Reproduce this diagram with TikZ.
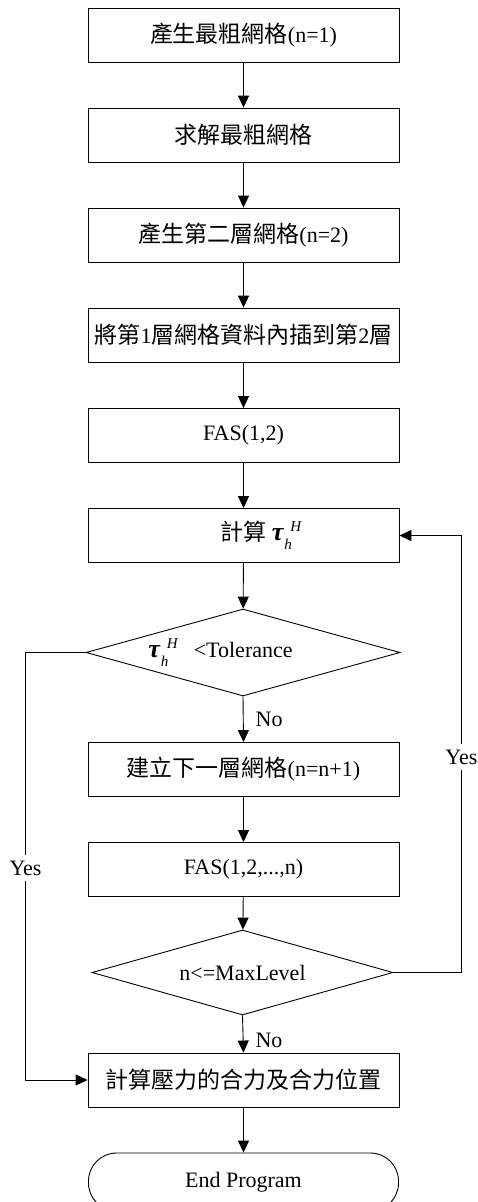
\documentclass[tikz,border=0pt]{standalone}
\usepackage{fontspec}
\setmainfont{Liberation Serif}
\newfontfamily\cjk[Scale=1.045]{Noto Sans CJK TC}
\usetikzlibrary{arrows.meta,shapes.geometric}

% Chinese text inside Latin lines
\newcommand\zh[1]{{\cjk #1}}
% bold tau with sub h and sup H
\newcommand\tauHh{{\fontsize{26pt}{26pt}\selectfont\bfseries\itshape τ}\kern1pt\rlap{\raisebox{-9pt}{\fontsize{15pt}{15pt}\selectfont\itshape h}}\kern6pt\raisebox{9pt}{\fontsize{15pt}{15pt}\selectfont\itshape H}}

\tikzset{
  proc/.style={draw, line width=0.9pt, minimum width=311pt, minimum height=54pt, inner sep=0pt},
  decision/.style={diamond, draw, line width=0.9pt, aspect=3.6, inner sep=0pt},
  terminal/.style={draw, line width=0.9pt, rounded corners=28pt, minimum width=310pt, minimum height=58pt, inner sep=0pt},
  flow/.style={-{Triangle[length=12pt,width=11pt]}, line width=0.9pt},
  branch/.style={font=\fontsize{22pt}{24pt}\selectfont, inner sep=0pt},
  loopnote/.style={font=\fontsize{22pt}{24pt}\selectfont, fill=white, inner xsep=1pt, inner ysep=6pt}
}

\begin{document}
\begin{tikzpicture}[x=1pt, y=-1pt, font=\fontsize{22pt}{26pt}\selectfont]
\useasboundingbox (0,0) rectangle (478,1202);
\clip (0,0) rectangle (478,1202);

\node[proc] (b1) at (243.5,35)    {\zh{產生最粗網格}(n=1)};
\node[proc] (b2) at (243.5,135)   {\zh{求解最粗網格}};
\node[proc] (b3) at (243.5,235)   {\zh{產生第二層網格}(n=2)};
\node[proc] (b4) at (243.5,335)   {\zh{將第}1\zh{層網格資料內插到第}2\zh{層}};
\node[proc] (b5) at (243.5,435.5) {FAS(1,2)};
\node[proc] (b6) at (243.5,535.5) {\hspace*{35pt}\zh{計算}\kern5pt\tauHh};
\node[decision, minimum width=314pt, minimum height=87pt] (d1) at (243,652.5)
  {\tauHh\hspace{16pt}<Tolerance\hspace*{45pt}};
\node[proc] (b7) at (243.5,769.5) {\zh{建立下一層網格}(n=n+1)};
\node[proc] (b8) at (243.5,869.5) {FAS(1,2,...,n)};
\node[decision, minimum width=301pt, minimum height=85pt] (d2) at (242.5,972.5) {n<=MaxLevel};
\node[proc] (b9) at (243.5,1080)  {\zh{計算壓力的合力及合力位置}};
\node[terminal] (end) at (243.5,1182) {End Program};

\draw[flow] (b1) -- (b2);
\draw[flow] (b2) -- (b3);
\draw[flow] (b3) -- (b4);
\draw[flow] (b4) -- (b5);
\draw[flow] (b5) -- (b6);
\draw[flow] (b6) -- (d1);
\draw[flow] (d1.south) -- node[branch, anchor=west, pos=0.51, xshift=12pt] {No} (b7.north);
\draw[flow] (b7) -- (b8);
\draw[flow] (b8) -- (d2);
\draw[flow] (d2.south) -- node[branch, anchor=west, pos=0.66, xshift=12pt] {No} (b9.north);
\draw[flow] (b9) -- (end);

% Yes branch of the tolerance test
\draw[flow] (d1.west) -- ++(-60,0) |- node[loopnote, pos=0.252] {Yes} (b9.west);
% Yes branch of the level test
\draw[flow] (d2.east) -- ++(68,0) |- node[loopnote, pos=0.2466] {Yes} (b6.east);
\end{tikzpicture}
\end{document}
